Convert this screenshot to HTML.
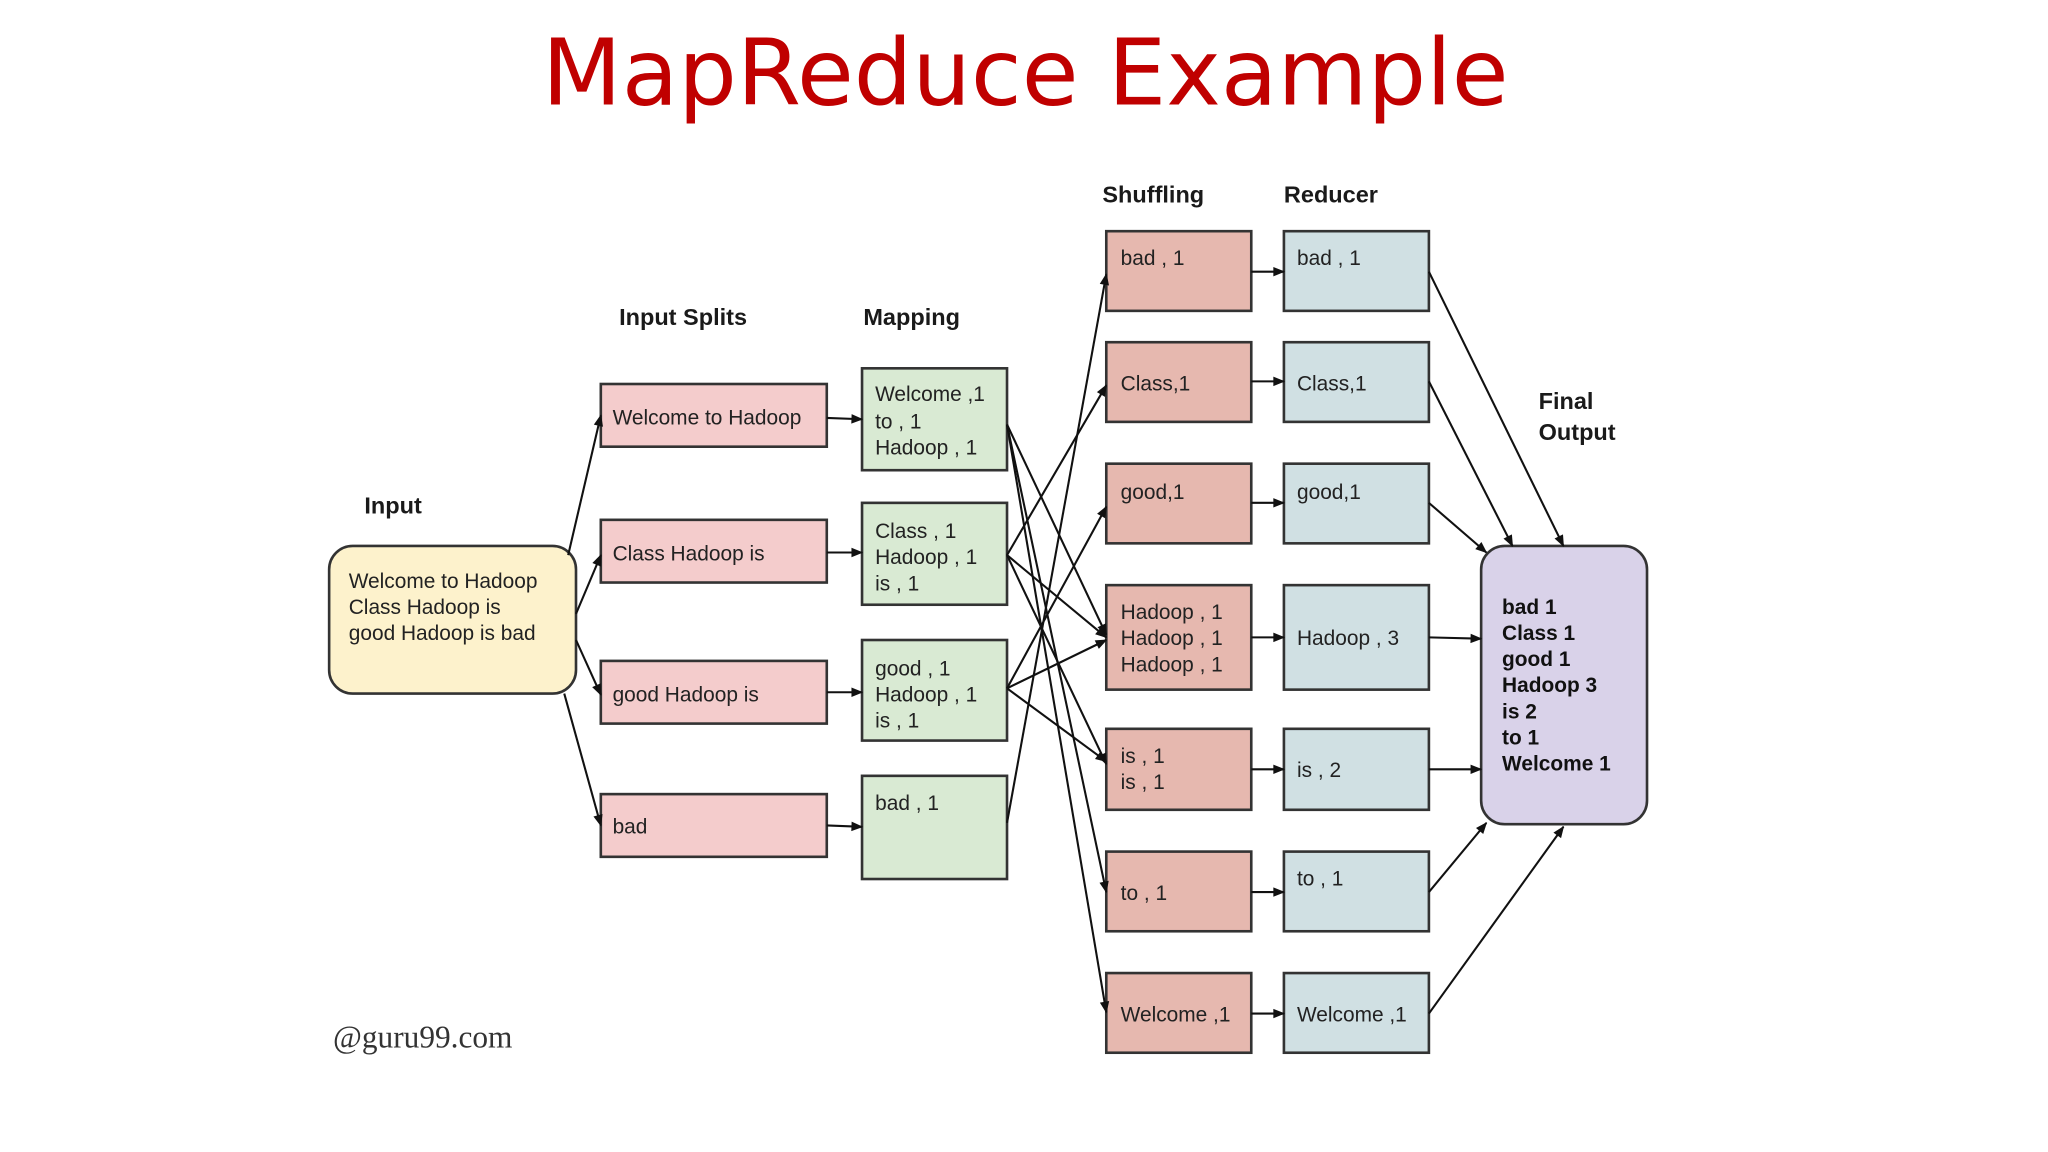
<!DOCTYPE html>
<html><head><meta charset="utf-8"><style>
html,body{margin:0;padding:0;background:#fff;width:2048px;height:1152px;overflow:hidden}
svg{display:block}
text{font-family:"Liberation Sans",Arial,sans-serif;fill:#222}
.h{font-weight:bold;font-size:18px;fill:#1a1a1a}
.t{font-size:16px}
.b{font-size:16px;font-weight:bold;fill:#111}
.box{stroke:#333;stroke-width:2}
.a{stroke:#111;stroke-width:1.6;fill:none;marker-end:url(#ar)}
</style></head><body>
<svg width="2048" height="1152" viewBox="0 0 1568 882" xmlns="http://www.w3.org/2000/svg">
<defs><marker id="ar" viewBox="0 0 10 10" refX="9" refY="5" markerWidth="10" markerHeight="9" orient="auto-start-reverse" markerUnits="userSpaceOnUse"><path d="M0,1 L10,5 L0,9 z" fill="#111"/></marker></defs>

<text x="785" y="80" text-anchor="middle" style="font-family:'DejaVu Sans',sans-serif;font-size:70px;fill:#c00000" textLength="740" lengthAdjust="spacingAndGlyphs">MapReduce Example</text>

<text class="h" x="279" y="393">Input</text>
<text class="h" x="474" y="249">Input Splits</text>
<text class="h" x="661" y="249">Mapping</text>
<text class="h" x="844" y="155">Shuffling</text>
<text class="h" x="983" y="155">Reducer</text>
<text class="h" x="1178" y="313">Final</text>
<text class="h" x="1178" y="337">Output</text>

<rect class="box" x="252" y="418" width="189" height="113" rx="18" fill="#fdf2cc"/>
<text class="t" x="267" y="450">Welcome to Hadoop</text>
<text class="t" x="267" y="470">Class Hadoop is</text>
<text class="t" x="267" y="490">good Hadoop is bad</text>

<g fill="#f4cccc">
<rect class="box" x="460" y="294" width="173" height="48"/>
<rect class="box" x="460" y="398" width="173" height="48"/>
<rect class="box" x="460" y="506" width="173" height="48"/>
<rect class="box" x="460" y="608" width="173" height="48"/>
</g>
<text class="t" x="469" y="325">Welcome to Hadoop</text>
<text class="t" x="469" y="429">Class Hadoop is</text>
<text class="t" x="469" y="537">good Hadoop is</text>
<text class="t" x="469" y="638">bad</text>

<g fill="#d9ead3">
<rect class="box" x="660" y="282" width="111" height="78"/>
<rect class="box" x="660" y="385" width="111" height="78"/>
<rect class="box" x="660" y="490" width="111" height="77"/>
<rect class="box" x="660" y="594" width="111" height="79"/>
</g>
<text class="t" x="670" y="307">Welcome ,1</text><text class="t" x="670" y="328">to , 1</text><text class="t" x="670" y="348">Hadoop , 1</text>
<text class="t" x="670" y="412">Class , 1</text><text class="t" x="670" y="432">Hadoop , 1</text><text class="t" x="670" y="452">is , 1</text>
<text class="t" x="670" y="517">good , 1</text><text class="t" x="670" y="537">Hadoop , 1</text><text class="t" x="670" y="557">is , 1</text>
<text class="t" x="670" y="620">bad , 1</text>

<g fill="#e6b8af">
<rect class="box" x="847" y="177" width="111" height="61"/>
<rect class="box" x="847" y="262" width="111" height="61"/>
<rect class="box" x="847" y="355" width="111" height="61"/>
<rect class="box" x="847" y="448" width="111" height="80"/>
<rect class="box" x="847" y="558" width="111" height="62"/>
<rect class="box" x="847" y="652" width="111" height="61"/>
<rect class="box" x="847" y="745" width="111" height="61"/>
</g>
<text class="t" x="858" y="203">bad , 1</text>
<text class="t" x="858" y="299">Class,1</text>
<text class="t" x="858" y="382">good,1</text>
<text class="t" x="858" y="474">Hadoop , 1</text><text class="t" x="858" y="494">Hadoop , 1</text><text class="t" x="858" y="514">Hadoop , 1</text>
<text class="t" x="858" y="584">is , 1</text><text class="t" x="858" y="604">is , 1</text>
<text class="t" x="858" y="689">to ,  1</text>
<text class="t" x="858" y="782">Welcome ,1</text>

<g fill="#d0e0e3">
<rect class="box" x="983" y="177" width="111" height="61"/>
<rect class="box" x="983" y="262" width="111" height="61"/>
<rect class="box" x="983" y="355" width="111" height="61"/>
<rect class="box" x="983" y="448" width="111" height="80"/>
<rect class="box" x="983" y="558" width="111" height="62"/>
<rect class="box" x="983" y="652" width="111" height="61"/>
<rect class="box" x="983" y="745" width="111" height="61"/>
</g>
<text class="t" x="993" y="203">bad , 1</text>
<text class="t" x="993" y="299">Class,1</text>
<text class="t" x="993" y="382">good,1</text>
<text class="t" x="993" y="494">Hadoop , 3</text>
<text class="t" x="993" y="595">is , 2</text>
<text class="t" x="993" y="678">to ,  1</text>
<text class="t" x="993" y="782">Welcome ,1</text>

<rect class="box" x="1134" y="418" width="127" height="213" rx="18" fill="#d9d2e9"/>
<text class="b" x="1150" y="470">bad 1</text>
<text class="b" x="1150" y="490">Class 1</text>
<text class="b" x="1150" y="510">good 1</text>
<text class="b" x="1150" y="530">Hadoop 3</text>
<text class="b" x="1150" y="550">is 2</text>
<text class="b" x="1150" y="570">to 1</text>
<text class="b" x="1150" y="590">Welcome 1</text>

<text x="255" y="802" style="font-family:'Liberation Serif',serif;font-size:24px;fill:#333">@guru99.com</text>

<path class="a" d="M435,425 L460,318"/>
<path class="a" d="M441,470 L460,425"/>
<path class="a" d="M441,490 L460,532"/>
<path class="a" d="M432,531 L460,632"/>
<path class="a" d="M633,320 L660,321"/>
<path class="a" d="M633,423 L660,423"/>
<path class="a" d="M633,530 L660,530"/>
<path class="a" d="M633,632 L660,633"/>

<path class="a" d="M771,325 L847,775"/>
<path class="a" d="M771,325 L847,683"/>
<path class="a" d="M771,325 L847,486"/>
<path class="a" d="M771,425 L847,295"/>
<path class="a" d="M771,425 L847,488"/>
<path class="a" d="M771,425 L847,585"/>
<path class="a" d="M771,527 L847,388"/>
<path class="a" d="M771,527 L847,490"/>
<path class="a" d="M771,527 L847,583"/>
<path class="a" d="M771,630 L847,210"/>

<path class="a" d="M958,208 L983,208"/>
<path class="a" d="M958,292 L983,292"/>
<path class="a" d="M958,385 L983,385"/>
<path class="a" d="M958,488 L983,488"/>
<path class="a" d="M958,589 L983,589"/>
<path class="a" d="M958,683 L983,683"/>
<path class="a" d="M958,776 L983,776"/>

<path class="a" d="M1094,208 L1197,418"/>
<path class="a" d="M1094,292 L1158,418"/>
<path class="a" d="M1094,385 L1138,423"/>
<path class="a" d="M1094,488 L1134,489"/>
<path class="a" d="M1094,589 L1134,589"/>
<path class="a" d="M1094,683 L1138,630"/>
<path class="a" d="M1094,776 L1197,633"/>
</svg>
</body></html>
